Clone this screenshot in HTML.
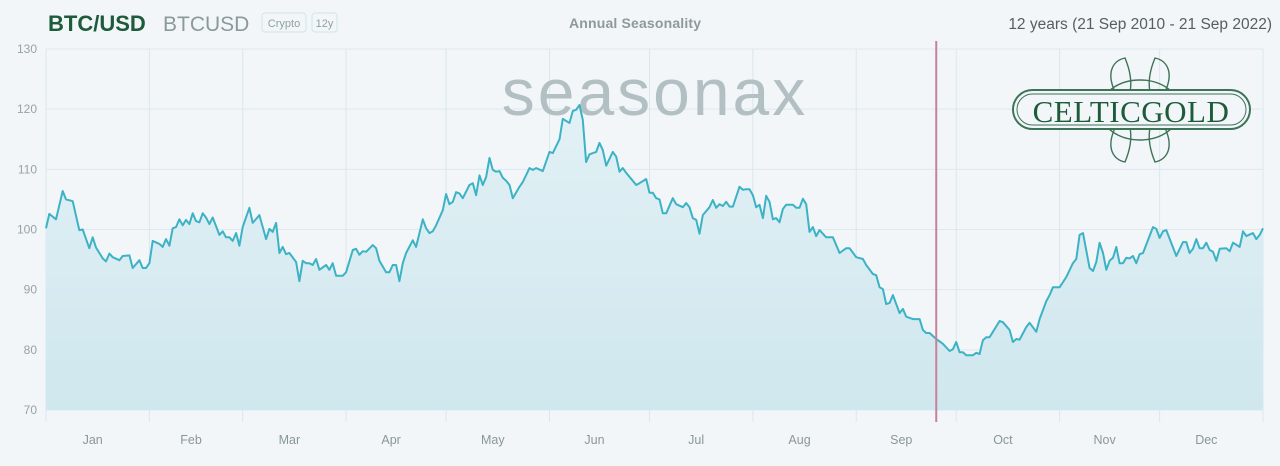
<!DOCTYPE html>
<html><head><meta charset="utf-8">
<style>
html,body{margin:0;padding:0;background:#f2f6f9;width:1280px;height:466px;overflow:hidden;font-family:"Liberation Sans",sans-serif;}
svg{display:block}
</style></head>
<body>
<svg id="chart" width="1280" height="466">
  <defs>
    <linearGradient id="fillg" x1="0" y1="0" x2="0" y2="1">
      <stop offset="0" stop-color="#e2f1f5"/>
      <stop offset="1" stop-color="#cfe7ee"/>
    </linearGradient>
  </defs>
  <rect x="0" y="0" width="1280" height="466" fill="#f2f6f9"/>
  <g>
    <text x="48" y="31" font-size="22" font-weight="bold" fill="#1e5b3b">BTC/USD</text>
    <text x="163" y="31" font-size="21" fill="#8a9a9c">BTCUSD</text>
    <rect x="262" y="13" width="44" height="19" rx="3" fill="none" stroke="#d3e4ea"/>
    <text x="284" y="27" font-size="11" fill="#8fa1a4" text-anchor="middle">Crypto</text>
    <rect x="312" y="13" width="25" height="19" rx="3" fill="none" stroke="#d3e4ea"/>
    <text x="324.5" y="27" font-size="11" fill="#8fa1a4" text-anchor="middle">12y</text>
    <text x="635" y="28" font-size="14" font-weight="bold" fill="#8f999b" text-anchor="middle" textLength="132">Annual Seasonality</text>
    <text x="1272" y="29" font-size="15.5" fill="#555e60" text-anchor="end">12 years (21 Sep 2010 - 21 Sep 2022)</text>
  </g>
  <g id="grid"></g>
  <text x="655" y="115" font-size="66" fill="#b3c0c3" text-anchor="middle" letter-spacing="3">seasonax</text>
  <g fill="none" stroke="#3d7357" stroke-width="1.4">
    <path d="M1115,92 C1105,70 1115,60 1125,58 C1130,70 1132,82 1130,92"/>
    <path d="M1150,92 C1148,82 1150,70 1155,58 C1165,60 1175,70 1165,92"/>
    <path d="M1115,128 C1105,150 1115,160 1125,162 C1130,150 1132,138 1130,128"/>
    <path d="M1150,128 C1148,138 1150,150 1155,162 C1165,160 1175,150 1165,128"/>
    <ellipse cx="1140" cy="110" rx="40" ry="30"/>
    <rect x="1013" y="90" width="237" height="39" rx="19.5" fill="#f2f6f9" stroke="#3d7357" stroke-width="2"/>
    <rect x="1017" y="94" width="229" height="31" rx="15.5" stroke-width="1"/>
    <text x="1131" y="122" font-size="31" fill="#1e5b3b" stroke="none" text-anchor="middle" font-family="Liberation Serif, serif" letter-spacing="0.5">CELTICGOLD</text>
  </g>
  <g id="series"></g>
  <g id="axes"></g>
</svg>
<script>
const yTicks = [70, 80, 90, 100, 110, 120, 130];
const months = ["Jan","Feb","Mar","Apr","May","Jun","Jul","Aug","Sep","Oct","Nov","Dec"];
const monthStartDays = [0,31,59,90,120,151,181,212,243,273,304,334,365];
const days = [0,1,3,5,6,8,10,11,13,14,15,17,18,19,20,22,23,25,26,28,29,30,31,32,34,35,36,37,38,39,40,41,42,43,44,45,46,47,48,49,50,52,53,54,55,56,57,58,59,61,62,64,66,67,68,69,70,71,72,73,75,76,77,78,79,80,81,82,84,85,86,87,89,90,92,93,94,95,96,98,99,100,102,103,104,105,106,107,108,110,111,113,114,115,116,117,119,120,121,122,123,124,125,127,128,129,130,131,132,133,134,135,136,137,138,139,140,142,143,145,146,147,149,151,152,154,155,157,158,159,160,161,162,163,165,166,167,168,170,171,172,173,174,176,177,178,180,181,182,183,184,185,186,188,189,191,192,193,194,195,196,197,199,200,201,202,203,204,205,206,208,209,210,211,212,213,214,215,216,217,218,219,220,221,222,224,225,226,227,228,229,230,231,232,234,236,238,240,241,243,245,246,248,249,250,251,252,253,254,256,257,258,260,262,263,264,265,267,269,271,272,273,274,275,276,278,279,280,281,282,283,286,287,289,290,291,292,294,295,297,298,300,301,302,304,306,308,309,310,311,313,314,315,316,317,318,319,320,321,322,323,324,325,326,327,328,329,332,333,334,335,336,339,341,342,343,344,345,346,347,348,349,350,351,352,354,355,356,358,359,360,362,363,364,365];
const values = [100.2,102.6,101.7,106.4,105,104.7,99.9,100,96.9,98.7,97,95.2,94.7,96,95.4,94.9,95.6,95.7,93.6,94.9,93.6,93.6,94.4,98.1,97.6,97.1,98.4,97.3,100.2,100.4,101.7,100.7,101.6,100.9,102.7,101.4,101.2,102.7,102,100.9,102,99.1,99.7,98.7,98.7,98.1,99.4,97.3,100.4,103.6,101.1,102.4,98.4,100.1,99.6,101.1,96.1,97.1,95.9,96.1,94.6,91.4,94.8,94.4,94.4,94.1,95.1,93.3,94.1,93.3,94.4,92.3,92.3,92.9,96.6,96.8,95.8,96.4,96.3,97.4,96.9,94.8,92.9,92.9,94.1,94.1,91.4,94.4,96.1,98.2,97.1,101.7,100.2,99.4,99.7,100.7,103.2,105.9,104.2,104.6,106.2,106,105.2,107.4,107.7,105.7,109,107.4,108.7,111.9,109.9,109.6,109.7,108.6,108.1,107.4,105.2,107.1,107.9,110.2,109.9,110.2,109.7,112.9,112.7,115,118.4,117.7,119.7,119.9,120.7,118.2,111.2,112.5,112.9,114.4,113.2,110.6,112.9,112.1,109.6,110.2,109.4,108.1,107.4,107.7,108.4,106.1,106.1,105.2,105,102.7,102.7,105.2,104.2,103.7,104.4,103.7,101.9,101.6,99.3,102.4,103.7,104.9,103.6,104.2,103.9,104.6,103.8,103.8,107.1,106.6,106.7,106.7,105.7,103.7,104.1,101.9,105.6,104.6,101.7,101.9,101.2,103.4,104.1,104.1,103.6,103.6,105.1,104.2,99.6,100.4,98.9,99.9,98.7,98.7,96.1,96.9,96.9,95.4,95.1,94.1,92.6,92.4,90.4,90.1,87.6,87.8,89.1,86.1,86.8,85.5,85.1,85.1,83.3,82.8,82.8,81.8,81,79.8,80.1,81.3,79.6,79.6,79.1,79.1,79.5,79.3,81.6,82.1,82.1,84.8,84.6,83.3,81.3,81.8,81.7,83.8,84.5,83,85.1,88.1,89.1,90.4,90.4,92.1,94.4,95.1,99.1,99.4,93.6,93.1,94.6,97.8,96.1,93.3,94.8,95.3,97.1,94.4,94.4,95.3,95.2,95.6,94.4,95.9,96.1,100.4,100.1,98.6,99.7,99.9,95.6,97.9,97.9,96.1,96.8,98.4,96.9,96.9,97.8,96.6,96.3,94.8,96.8,96.9,96.4,97.8,97.1,99.7,98.9,99.4,98.4,99.1,100.2];
const markerDay = 267;

const NS = "http://www.w3.org/2000/svg";
const X0 = 46, X1 = 1263, Y0 = 410, Y1 = 49, VMIN = 70, VMAX = 130, DMAX = 365;
const xScale = d => X0 + (d / DMAX) * (X1 - X0);
const yScale = v => Y0 - (v - VMIN) / (VMAX - VMIN) * (Y0 - Y1);
function mk(tag, attrs, parent) { const e = document.createElementNS(NS, tag); for (const k in attrs) e.setAttribute(k, attrs[k]); parent.appendChild(e); return e; }

const grid = document.getElementById("grid");
const axes = document.getElementById("axes");
const series = document.getElementById("series");

yTicks.forEach(t => {
  const y = yScale(t);
  const l = mk("line", {x1: X0, x2: X1, y1: y, y2: y, stroke: "#dde9ee", "stroke-width": 1}, grid);
  
  
  const tx = mk("text", {x: 37, y: y + 4, "font-size": 12, fill: "#97a3a6", "text-anchor": "end"}, axes);
  tx.textContent = t;
  
  
});
monthStartDays.forEach(d => {
  const x = xScale(d);
  const l = mk("line", {x1: x, x2: x, y1: Y1, y2: Y0 + 12, stroke: "#d9e8ee", "stroke-width": 1}, grid);
  
  
});
months.forEach((m, i) => {
  const x = xScale((monthStartDays[i] + monthStartDays[i + 1]) / 2) - 5;
  const tx = mk("text", {x: x, y: 444, "font-size": 12.5, fill: "#8a9799", "text-anchor": "middle"}, axes);
  tx.textContent = m;
  
  
});

let d = "";
days.forEach((dd, i) => { d += (i ? "L" : "M") + xScale(dd).toFixed(1) + "," + yScale(values[i]).toFixed(1); });
const area = mk("path", {d: d + "L" + xScale(days[days.length-1]) + "," + Y0 + "L" + xScale(days[0]) + "," + Y0 + "Z", fill: "url(#fillg)"}, series);


const line = mk("path", {d: d, fill: "none", stroke: "#3cb2c5", "stroke-width": 2, "stroke-linejoin": "round"}, series);


const mx = xScale(markerDay);
const marker = mk("line", {x1: mx, x2: mx, y1: 41, y2: 422, stroke: "#c9809a", "stroke-width": 2}, series);


</script>
</body></html>
